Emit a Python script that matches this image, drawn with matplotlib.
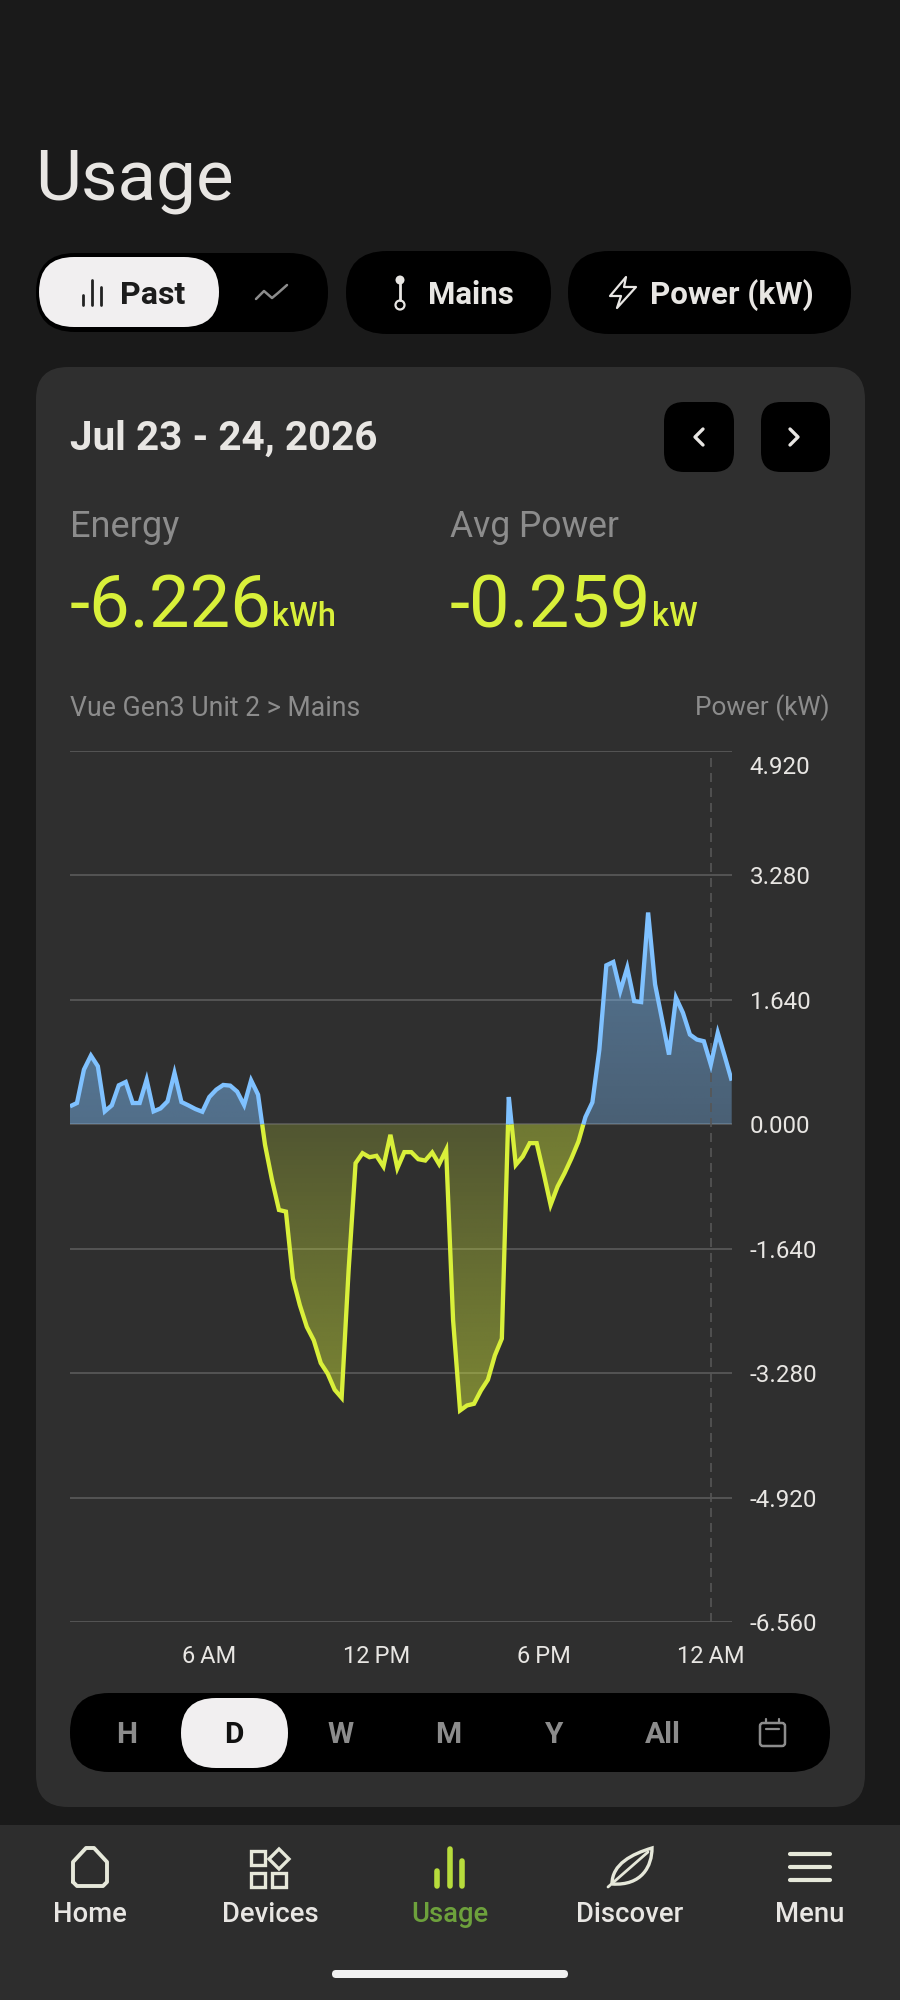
import numpy as np
import matplotlib
matplotlib.use('Agg')
import matplotlib.pyplot as plt
from matplotlib.patches import FancyBboxPatch, Circle, PathPatch, Polygon
from matplotlib.path import Path
from matplotlib.transforms import ScaledTranslation

plt.rcParams['font.family'] = ['Roboto', 'DejaVu Sans']

# power readings, one every 15 min starting 1 AM (kW)
power = [0.238, 0.282, 0.722, 0.907, 0.766, 0.172, 0.251, 0.515, 0.559, 0.282,
         0.282, 0.590, 0.172, 0.211, 0.304, 0.678, 0.295, 0.251, 0.203, 0.167,
         0.361, 0.458, 0.520, 0.511, 0.432, 0.255, 0.581, 0.392, -0.269, -0.731,
         -1.127, -1.149, -2.030, -2.382, -2.668, -2.845, -3.144, -3.285, -3.496, -3.602,
         -1.920, -0.511, -0.379, -0.432, -0.414, -0.555, -0.137, -0.577, -0.365, -0.365,
         -0.458, -0.476, -0.370, -0.524, -0.335, -2.580, -3.769, -3.703, -3.681, -3.505,
         -3.364, -3.043, -2.822, 0.361, -0.533, -0.423, -0.247, -0.247, -0.643, -1.061,
         -0.819, -0.643, -0.445, -0.225, 0.097, 0.291, 0.986, 2.096, 2.140, 1.757,
         2.065, 1.625, 1.612, 2.792, 1.845, 1.383, 0.920, 1.669, 1.471, 1.184,
         1.118, 1.096, 0.788, 1.207, 0.898, 0.577]
hours = 1 + np.arange(len(power)) * 0.25

y_ticks = [4.92, 3.28, 1.64, 0.0, -1.64, -3.28, -4.92, -6.56]
y_labels = ['4.920', '3.280', '1.640', '0.000', '-1.640', '-3.280', '-4.920', '-6.560']
x_ticks = [6, 12, 18, 24]
x_labels = ['6\u2009AM', '12\u2009PM', '6\u2009PM', '12\u2009AM']
ranges = ['H', 'D', 'W', 'M', 'Y', 'All']
nav_labels = ['Home', 'Devices', 'Usage', 'Discover', 'Menu']

PAGE = '#1a1a1a'
CARD = '#2f2f2f'
NAV = '#2d2d2d'
BLUE = '#7fc1ff'
LIME = '#d9f03a'
TXT = '#e8e6e3'
GREY = '#8c8c8c'
ICON = '#e6e8da'

fig = plt.figure(figsize=(9, 20), dpi=100, facecolor=PAGE)
ui = fig.add_axes([0, 0, 1, 1])
ui.set_xlim(0, 900)
ui.set_ylim(2000, 0)
ui.axis('off')


def pill(x0, y0, x1, y1, r, color, edge='none', lw=0):
    ui.add_patch(FancyBboxPatch((x0, y0), x1 - x0, y1 - y0, boxstyle=f'round,pad=0,rounding_size={r}',
                                fc=color, ec=edge, lw=lw))


def stroke(xs, ys, color, lw=2.0):
    ui.plot(xs, ys, color=color, lw=lw, solid_capstyle='round', solid_joinstyle='round')


def label(x, y, s, size, color=TXT, weight='normal', ha='left'):
    ui.text(x, y, s, fontsize=size, color=color, fontweight=weight, ha=ha, va='center_baseline')


# page title and top pills
label(35, 173, 'Usage', 51)
pill(36, 253, 328, 332, 39, '#000000')
pill(39, 257, 219, 327, 35, '#f1eff0')
pill(346, 251, 551, 334, 41, '#000000')
pill(568, 251, 851, 334, 41, '#000000')
for bx, top in zip([83, 92, 101], [295, 280, 287]):
    stroke([bx, bx], [top, 305], '#222222', 2.0)
label(120, 292, 'Past', 23, '#1c1c1c', 'bold')
stroke([256, 264, 272, 278, 287], [299, 291, 298, 293, 285], GREY, 1.8)
ui.add_patch(Circle((400, 280), 4.5, fc=TXT, ec='none'))
stroke([400, 400], [282, 300], TXT, 2)
ui.add_patch(Circle((400, 305), 4.5, fc='none', ec=TXT, lw=1.6))
label(428, 292, 'Mains', 22.5, TXT, 'bold')
ui.add_patch(Polygon([(626, 277), (610, 296), (621, 296), (617, 308), (636, 287), (624, 287)],
                     closed=True, fc='none', ec=TXT, lw=1.6, joinstyle='round'))
label(650, 292, 'Power (kW)', 22.6, TXT, 'bold')

# card
pill(36, 367, 865, 1807, 32, CARD)
label(70, 435, 'Jul 23 - 24, 2026', 29.2, TXT, 'bold')
pill(664, 402, 734, 472, 20, '#000000')
pill(761, 402, 830, 472, 20, '#000000')
stroke([703, 695, 703], [429, 437, 445], TXT, 2.4)
stroke([790, 798, 790], [429, 437, 445], TXT, 2.4)
label(70, 523, 'Energy', 26, GREY)
label(450, 523, 'Avg Power', 25.6, GREY)
label(70, 600, '-6.226', 52, LIME)
label(272, 614, 'kWh', 23.5, LIME, 'medium')
label(450, 600, '-0.259', 52, LIME)
label(652, 614, 'kW', 23.5, LIME, 'medium')
label(70, 706, 'Vue Gen3 Unit 2 > Mains', 19.2, GREY)
label(830, 705, 'Power (kW)', 18.8, GREY, ha='right')

# chart
ax = fig.add_axes([70 / 900, 1 - 1622.3 / 2000, 661.7 / 900, 871.3 / 2000])
ax.patch.set_alpha(0)
for s in ax.spines.values():
    s.set_visible(False)

y = np.array(power)
runs = []
cur_x, cur_y = [hours[0]], [y[0]]
for i in range(1, len(y)):
    if y[i - 1] * y[i] < 0:
        xc = hours[i - 1] + (hours[i] - hours[i - 1]) * y[i - 1] / (y[i - 1] - y[i])
        cur_x.append(xc)
        cur_y.append(0.0)
        runs.append((np.array(cur_x), np.array(cur_y)))
        cur_x, cur_y = [xc, hours[i]], [0.0, y[i]]
    else:
        cur_x.append(hours[i])
        cur_y.append(y[i])
runs.append((np.array(cur_x), np.array(cur_y)))

for xs, ys in runs:
    up = ys.max() > 0
    rgb = matplotlib.colors.to_rgb(BLUE if up else LIME)
    ext = np.abs(ys).max()
    top_a, slope = (0.48, 0.05) if up else (0.45, 0.065)
    depth = np.linspace(ext, 0, 64)
    grad = np.zeros((64, 1, 4))
    grad[:, :, :3] = rgb
    grad[:, 0, 3] = np.clip(top_a - slope * (ext - depth), 0, 1)
    if not up:
        grad = grad[::-1]
    lo, hi = (0, ext) if up else (-ext, 0)
    im = ax.imshow(grad, extent=[xs.min(), xs.max(), lo, hi], aspect='auto', origin='upper', zorder=2,
                   interpolation='bilinear')
    verts = [(xs[0], 0)] + list(zip(xs, ys)) + [(xs[-1], 0)]
    im.set_clip_path(Polygon(verts, closed=True, transform=ax.transData))
    ax.plot(xs, ys, color=rgb, lw=3.1, zorder=4, solid_joinstyle='miter', solid_capstyle='butt')

ax.axvline(24, color='#565656', lw=1.2, ls=(0, (5.4, 3.6)), zorder=3)
ax.set_xlim(1, 24.75)
ax.set_ylim(-6.56, 4.92)
ax.set_yticks(y_ticks)
ax.set_yticklabels(y_labels)
ax.set_xticks(x_ticks)
ax.set_xticklabels(x_labels)
ax.yaxis.tick_right()
ax.grid(axis='y', color='#555555', lw=1.4, zorder=1)
ax.grid(axis='x', visible=False)
ax.tick_params(axis='y', length=0, pad=13, labelsize=17.4, labelcolor=TXT)
ax.tick_params(axis='x', length=0, pad=16, labelsize=17, labelcolor=TXT)
ticklabs = ax.get_yticklabels()
ticklabs[0].set_va('top')
ticklabs[0].set_transform(ticklabs[0].get_transform() + ScaledTranslation(0, -0.055, fig.dpi_scale_trans))

# range selector
pill(70, 1693, 830, 1772, 39, '#000000')
pill(181, 1698, 288, 1768, 35, '#f1eff0')
for name, cx in zip(ranges, [127, 234, 341, 448, 554.5, 663]):
    label(cx, 1732, name, 21.5, '#111111' if name == 'D' else GREY, 'bold', 'center')
pill(760, 1723, 785, 1746, 3, 'none', GREY, 1.8)
stroke([766, 779], [1729, 1729], GREY, 1.6)
stroke([766, 766], [1719, 1723], GREY, 1.6)
stroke([779, 779], [1719, 1723], GREY, 1.6)

# bottom nav
ui.add_patch(plt.Rectangle((0, 1825), 900, 175, fc=NAV, ec='none'))
for name, cx in zip(nav_labels, [90, 270, 450, 630, 810]):
    label(cx, 1911, name, 19.8, '#6da13c' if name == 'Usage' else TXT, 'medium', 'center')

stroke([73, 73, 86, 94, 107, 107, 103, 77, 73], [1882, 1862, 1848, 1848, 1862, 1882, 1886, 1886, 1882], ICON, 2.8)
for x0, y0 in [(251, 1851), (251, 1873), (272, 1873)]:
    ui.add_patch(plt.Rectangle((x0, y0), 14, 14, fc='none', ec=ICON, lw=2.4))
ui.add_patch(Polygon([(279, 1849), (289, 1859), (279, 1869), (269, 1859)], closed=True, fc='none', ec=ICON, lw=2.4))
for bx, top in zip([437, 450, 462], [1871, 1849, 1861]):
    stroke([bx, bx], [top, 1886], '#b7dc3c', 4.0)
ui.add_patch(PathPatch(Path([(612, 1884), (612, 1864), (632, 1854), (652, 1848), (652, 1866), (642, 1886), (612, 1884)],
                            [Path.MOVETO, Path.CURVE4, Path.CURVE4, Path.CURVE4, Path.CURVE4, Path.CURVE4, Path.CURVE4]),
                       fc='none', ec=ICON, lw=2.4))
stroke([608, 648], [1887, 1852], ICON, 2.0)
for ym in [1854, 1867, 1880]:
    stroke([790, 830], [ym, ym], ICON, 3.0)
pill(332, 1970, 568, 1978, 4, '#f1f1f1')

fig.savefig('out.png', dpi=100, facecolor=PAGE)
